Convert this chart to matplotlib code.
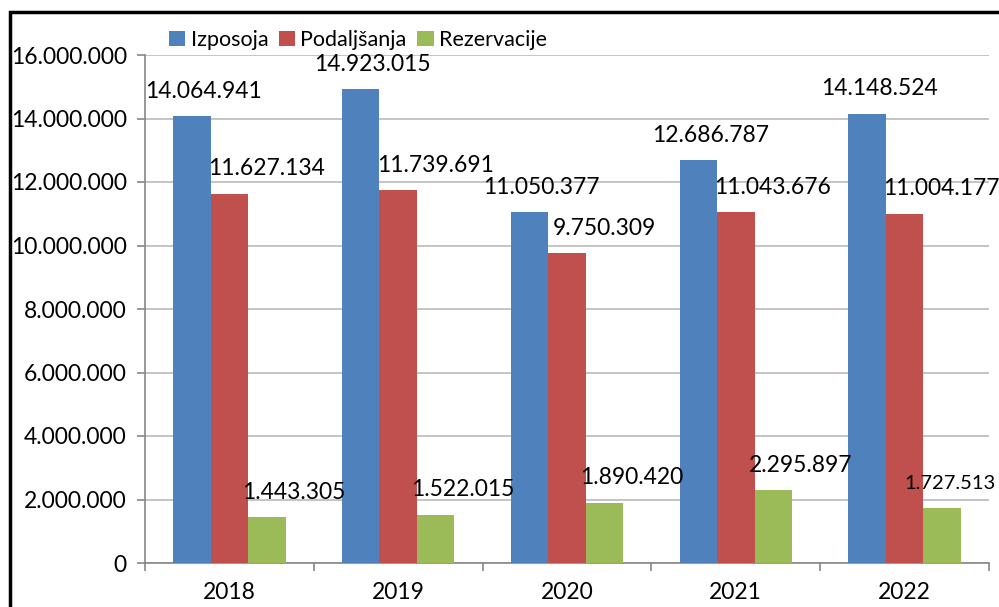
import matplotlib.pyplot as plt
import numpy as np
from matplotlib.patches import Rectangle
from matplotlib.ticker import FuncFormatter

plt.rcParams['font.family'] = ['Lato', 'DejaVu Sans']

years = ['2018', '2019', '2020', '2021', '2022']
izposoja = [14064941, 14923015, 11050377, 12686787, 14148524]
podaljsanja = [11627134, 11739691, 9750309, 11043676, 11004177]
rezervacije = [1443305, 1522015, 1890420, 2295897, 1727513]
series_names = ['Izposoja', 'Podaljšanja', 'Rezervacije']
colors = ['#4F81BD', '#C0504D', '#9BBB59']


def dotted(v):
    return f'{int(v):,}'.replace(',', '.')


fig = plt.figure(figsize=(9.99, 6.07), dpi=100)
ax = fig.add_axes([145 / 999, 1 - 563 / 607, 844 / 999, 508 / 607])

FS = 16.5
x = np.arange(len(years))
w = 0.222
# label shift right of each bar centre, in pixels
label_dx = [12, 37, 27]
for i, (vals, name, c) in enumerate(zip([izposoja, podaljsanja, rezervacije], series_names, colors)):
    pos = x + (i - 1) * w
    ax.bar(pos, vals, width=w, color=c, label=name, zorder=3)
    for j, (p, v) in enumerate(zip(pos, vals)):
        fs, dx = FS, label_dx[i]
        if i == 2 and j == 4:
            # last label squeezed against the right edge, as in the original
            fs, dx = 14.5, 8
        ax.annotate(dotted(v), (p, v), xytext=(dx * 0.72, 18),
                    textcoords='offset points', ha='center', va='center',
                    fontsize=fs, color='black', zorder=4)

ax.set_xlim(-0.5, len(years) - 0.5)
ax.set_ylim(0, 16000000)
ax.set_yticks(np.arange(0, 16000001, 2000000))
ax.yaxis.set_major_formatter(FuncFormatter(lambda v, p: dotted(v)))
ax.set_xticks(x)
ax.set_xticklabels(years)
ax.set_xticks(np.arange(-0.5, len(years), 1), minor=True)
ax.tick_params(axis='x', which='major', length=0, labelsize=FS, pad=14)
ax.tick_params(axis='x', which='minor', length=6, color='#868686', width=1.2)
ax.tick_params(axis='y', length=6, color='#868686', width=1.2, labelsize=FS, pad=7)

ax.grid(axis='y', color='#BFBFBF', linewidth=1.3, zorder=0)
for s in ['top', 'right']:
    ax.spines[s].set_visible(False)
for s in ['left', 'bottom']:
    ax.spines[s].set_color('#868686')
    ax.spines[s].set_linewidth(1.2)

ax.legend(loc='center left', bbox_to_anchor=(169 / 999, 1 - 40 / 607), bbox_transform=fig.transFigure,
          ncol=3, frameon=False, fontsize=15.5, handlelength=0.75, handleheight=0.75,
          handletextpad=0.25, columnspacing=0.5, borderaxespad=0, borderpad=0)

fig.patches.append(Rectangle((10 / 999, -0.05), 1.1, 1 - 12 / 607 + 0.05, transform=fig.transFigure,
                             fill=False, edgecolor='black', linewidth=2.5))

fig.savefig('out.png', dpi=100)
